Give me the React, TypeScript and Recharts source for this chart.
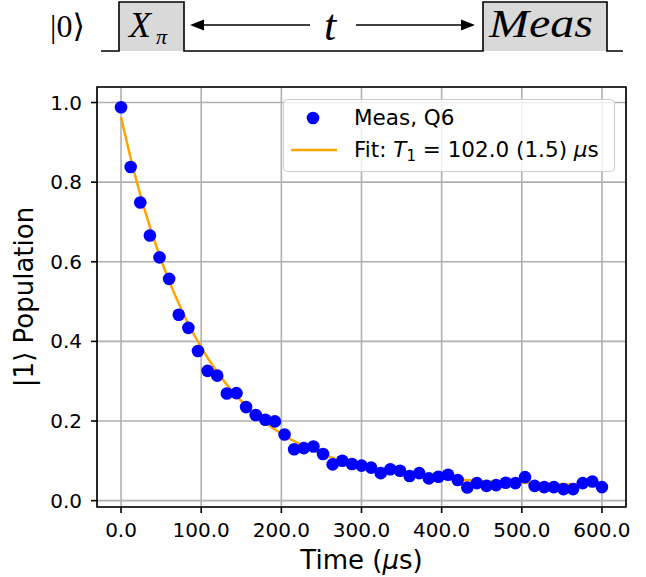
import React from 'react'
import {
  ComposedChart,
  Scatter,
  Line,
  XAxis,
  YAxis,
  CartesianGrid,
  Legend,
  ReferenceArea,
  Label,
} from 'recharts'

const FONT = "'DejaVu Sans', sans-serif"
const SERIF = "'Liberation Serif', 'DejaVu Serif', serif"

// measured points, Q6 (time in µs)
const times = [
  0, 12, 24, 36, 48, 60, 72, 84, 96, 108, 120, 132, 144, 156, 168, 180, 192,
  204, 216, 228, 240, 252, 264, 276, 288, 300, 312, 324, 336, 348, 360, 372,
  384, 396, 408, 420, 432, 444, 456, 468, 480, 492, 504, 516, 528, 540, 552,
  564, 576, 588, 600,
]
const population = [
  0.988, 0.838, 0.749, 0.666, 0.611, 0.557, 0.467, 0.434, 0.376, 0.326, 0.314,
  0.269, 0.27, 0.235, 0.215, 0.203, 0.199, 0.166, 0.129, 0.132, 0.136, 0.117,
  0.091, 0.1, 0.092, 0.088, 0.083, 0.069, 0.079, 0.075, 0.062, 0.069, 0.056,
  0.06, 0.065, 0.052, 0.033, 0.044, 0.037, 0.039, 0.045, 0.044, 0.059, 0.037,
  0.034, 0.034, 0.029, 0.029, 0.044, 0.048, 0.034,
]

// fitted curve
const fitTimes = [
  0, 10, 20, 30, 40, 50, 60, 70, 80, 90, 100, 120, 140, 160, 180, 200, 225,
  250, 275, 300, 350, 400, 450, 500, 550, 600,
]
const fitValues = [
  0.963, 0.877, 0.798, 0.727, 0.663, 0.605, 0.552, 0.504, 0.46, 0.421, 0.385,
  0.323, 0.272, 0.231, 0.196, 0.168, 0.14, 0.118, 0.1, 0.087, 0.068, 0.056,
  0.049, 0.045, 0.042, 0.041,
]

const xTicks = [0, 100, 200, 300, 400, 500, 600]
const yTicks = [0, 0.2, 0.4, 0.6, 0.8, 1.0]

const measData = times.map((t, i) => ({ t, p: population[i] }))
const fitData = fitTimes.map((t, i) => ({ t, p: fitValues[i] }))

const X_DOMAIN: [number, number] = [-30, 630]
const Y_DOMAIN: [number, number] = [-0.016, 1.039]

function PulseDiagram() {
  return (
    <svg
      width={646}
      height={70}
      style={{ position: 'absolute', left: 0, top: 0, pointerEvents: 'none' }}
    >
      <rect x={119} y={2} width={65} height={49} fill="#d9d9d9" />
      <rect x={483} y={2} width={124} height={49} fill="#d9d9d9" />
      <path
        d="M101,51 H119 V2 H184 V51 H483 V2 H607 V51 H623"
        fill="none"
        stroke="#000"
        strokeWidth={1.6}
      />
      <line x1={200} y1={25} x2={310} y2={25} stroke="#000" strokeWidth={1.6} />
      <polygon points="190,25 204,19.5 204,30.5" fill="#000" />
      <line x1={356} y1={25} x2={464} y2={25} stroke="#000" strokeWidth={1.6} />
      <polygon points="475,25 461,19.5 461,30.5" fill="#000" />
      <text x={50} y={37} fontSize={32} fontFamily={SERIF}>
        |0⟩
      </text>
      <text x={129} y={37} fontSize={36} fontFamily={SERIF} fontStyle="italic">
        X
      </text>
      <text x={156} y={44} fontSize={22} fontFamily={SERIF} fontStyle="italic">
        π
      </text>
      <text
        x={330}
        y={40}
        fontSize={44}
        fontFamily={SERIF}
        fontStyle="italic"
        textAnchor="middle"
      >
        t
      </text>
      <text
        x={489}
        y={37}
        fontSize={41}
        fontFamily={SERIF}
        fontStyle="italic"
        textLength={104}
        lengthAdjust="spacingAndGlyphs"
      >
        Meas
      </text>
    </svg>
  )
}

function LegendBox() {
  return (
    <svg width={332} height={73} style={{ display: 'block' }}>
      <rect
        x={0.5}
        y={0.5}
        width={331}
        height={72}
        rx={4}
        fill="rgba(255,255,255,0.8)"
        stroke="#cccccc"
      />
      <circle cx={30} cy={19} r={6.3} fill="#0000ff" />
      <text x={71} y={26} fontSize={21.5} fontFamily={FONT}>
        Meas, Q6
      </text>
      <line x1={8} y1={51} x2={54} y2={51} stroke="#ffa500" strokeWidth={2.5} />
      <text x={71} y={58} fontSize={21.5} fontFamily={FONT}>
        Fit: <tspan fontStyle="italic">T</tspan>
        <tspan fontSize={15} dy={4}>1</tspan>
        <tspan dy={-4}> = 102.0 (1.5) </tspan>
        <tspan fontStyle="italic">μ</tspan>s
      </text>
    </svg>
  )
}

function XTitle({ viewBox }: any) {
  return (
    <text
      x={viewBox.x + viewBox.width / 2}
      y={viewBox.y + 62}
      textAnchor="middle"
      fontSize={26}
      fontFamily={FONT}
    >
      Time (<tspan fontStyle="italic">μ</tspan>s)
    </text>
  )
}

function YTitle({ viewBox }: any) {
  const x = viewBox.x + 33
  const y = viewBox.y + viewBox.height / 2
  return (
    <text
      x={x}
      y={y}
      textAnchor="middle"
      fontSize={26}
      fontFamily={FONT}
      transform={`rotate(-90, ${x}, ${y})`}
    >
      |1⟩ Population
    </text>
  )
}

export default function App() {
  const tickStyle = { fontSize: 20, fontFamily: FONT, fill: '#000' }
  return (
    <div
      style={{
        position: 'absolute',
        left: 0,
        top: 0,
        width: 646,
        height: 577,
        background: '#fff',
      }}
    >
      <ComposedChart
        width={646}
        height={577}
        margin={{ top: 87, right: 20, bottom: 0, left: 0 }}
      >
        <CartesianGrid stroke="#b0b0b0" strokeWidth={1.6} />
        <XAxis
          dataKey="t"
          type="number"
          domain={X_DOMAIN}
          ticks={xTicks}
          allowDataOverflow
          height={70}
          axisLine={false}
          tickLine={{ stroke: '#000', strokeWidth: 1.6 }}
          tickSize={6}
          tickMargin={10}
          tick={tickStyle}
          tickFormatter={(v: number) => v.toFixed(1)}
          interval={0}
        >
          <Label content={<XTitle />} />
        </XAxis>
        <YAxis
          dataKey="p"
          type="number"
          domain={Y_DOMAIN}
          ticks={yTicks}
          allowDataOverflow
          width={97}
          axisLine={false}
          tickLine={{ stroke: '#000', strokeWidth: 1.6 }}
          tickSize={6}
          tickMargin={9}
          tick={tickStyle}
          tickFormatter={(v: number) => v.toFixed(1)}
          interval={0}
        >
          <Label content={<YTitle />} />
        </YAxis>
        <Scatter
          data={measData}
          dataKey="p"
          fill="#0000ff"
          isAnimationActive={false}
          shape={(props: any) => (
            <circle cx={props.cx} cy={props.cy} r={6.3} fill="#0000ff" />
          )}
        />
        <Line
          data={fitData}
          dataKey="p"
          type="monotone"
          stroke="#ffa500"
          strokeWidth={2.5}
          dot={false}
          activeDot={false}
          isAnimationActive={false}
        />
        <ReferenceArea
          x1={X_DOMAIN[0]}
          x2={X_DOMAIN[1]}
          y1={Y_DOMAIN[0]}
          y2={Y_DOMAIN[1]}
          fill="none"
          stroke="#000"
          strokeWidth={1.6}
          ifOverflow="visible"
        />
        <Legend
          layout="horizontal"
          verticalAlign="middle"
          align="center"
          wrapperStyle={{ left: 283, top: 99, width: 332, height: 73 }}
          content={() => <LegendBox />}
        />
      </ComposedChart>
      <PulseDiagram />
    </div>
  )
}
